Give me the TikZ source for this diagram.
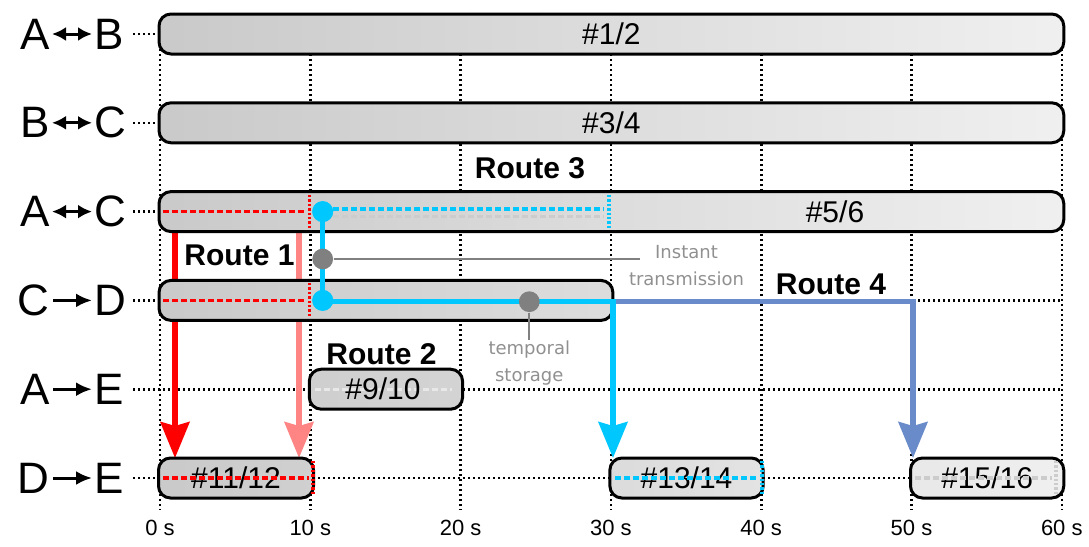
\documentclass[tikz,border=0pt]{standalone}
\usepackage{fontspec}
\setmainfont{Liberation Sans}
\newfontfamily\notefont{DejaVu Sans}
\usetikzlibrary{arrows.meta,positioning}
\definecolor{rtred}{HTML}{FF0000}
\definecolor{rtpink}{HTML}{FF8585}
\definecolor{rtcyan}{HTML}{00C8FF}
\definecolor{rtblue}{HTML}{6A8BC9}
\definecolor{dotgray}{HTML}{808080}
\definecolor{notegray}{HTML}{909090}

\begin{document}
\begin{tikzpicture}[x=0.5pt, y=-0.5pt,
  rowlab/.style={font=\fontsize{22}{26}\selectfont, inner sep=0pt},
  twoway/.style={line width=1.5pt, shorten <=1pt, shorten >=1pt, {Latex[length=7pt,width=7pt]}-{Latex[length=7pt,width=7pt]}},
  oneway/.style={line width=1.5pt, shorten <=1.5pt, shorten >=1pt, -{Latex[length=8pt,width=7pt]}},
  gridline/.style={line width=1.3pt, dash pattern=on 1pt off 1.5pt},
  bar/.style={draw, line width=1.5pt, rounded corners=6pt, minimum height=20pt, inner sep=0pt, font=\fontsize{15}{18}\selectfont},
  barlab/.style={font=\fontsize{15}{18}\selectfont, inner sep=0pt},
  tick/.style={font=\fontsize{11}{13}\selectfont, inner sep=0pt},
  route/.style={font=\bfseries\fontsize{15}{18}\selectfont, inner sep=0pt},
  note/.style={font=\notefont\fontsize{9}{13.5}\selectfont, text=notegray, align=center, inner sep=0pt},
  flow/.style={line width=2.6pt, -{Stealth[length=18pt,width=14.5pt,inset=2pt]}},
  markdash/.style={line width=1.7pt, dash pattern=on 3pt off 1.5pt},
  markdot/.style={line width=1.6pt, dash pattern=on 1.2pt off 1pt},
  hub/.style={circle, inner sep=0pt, minimum size=10.4pt}
]
\useasboundingbox (0,0) rectangle (1089,547);

% grid
\foreach \t in {0,...,6}
  \draw[gridline] (160+150.3*\t,34) -- (160+150.3*\t,510);
\foreach \y in {34,122.8,211.6,300.4,389.2,478}
  \draw[gridline] (133,\y) -- (1062,\y);
\foreach \t [evaluate=\t as \s using int(10*\t)] in {0,...,6}
  \node[tick] (tk\t) at (160+150.3*\t,528) {\s~s};

% row labels
\foreach \n/\y/\a/\b/\tip in {ab/34/A/B/twoway, bc/122.8/B/C/twoway, ac/211.6/A/C/twoway,
    cd/300.4/C/D/oneway, ae/389.2/A/E/oneway, de/478/D/E/oneway} {
  \node[rowlab, anchor=east] (la\n) at (50,\y) {\a};
  \node[rowlab, anchor=west] (lb\n) at (94,\y) {\b};
  \draw[\tip] (la\n) -- (lb\n);
}

% route 1 (behind the bars)
\coordinate (r1a) at (175,230);   \coordinate (r1b) at (175,458);
\coordinate (r1c) at (299,230);   \coordinate (r1d) at (299,458);
\draw[flow, rtred] (r1a) -- (r1b);
\draw[flow, rtpink] (r1c) -- (r1d);

% transmissions
\node[bar, left color=black!21, right color=black!6, minimum width=452.4pt] (ab) at (611.4,34) {\#1/2};
\node[bar, left color=black!21, right color=black!6, minimum width=452.4pt] (bc) at (611.4,122.8) {\#3/4};
\node[bar, left color=black!21, right color=black!6, minimum width=452.4pt] (ac) at (611.4,211.6) {};
\node[bar, left color=black!21, right color=black!13.5, minimum width=226.95pt] (cd) at (385.95,300.4) {};
\node[bar, left color=black!19, right color=black!17, minimum width=76.65pt] (ae) at (385.95,389.2) {};
\node[bar, left color=black!21, right color=black!18.5, minimum width=77.5pt] (de1) at (236,478) {\#11/12};
\node[bar, left color=black!14, right color=black!11, minimum width=76.65pt] (de2) at (686.55,478) {\#13/14};
\node[bar, left color=black!9, right color=black!6, minimum width=76.65pt] (de3) at (987.15,478) {\#15/16};

% route 1 marks
\draw[markdash, rtred] (163,211.6) -- (306,211.6);
\draw[markdot, rtred] (309.5,195) -- (309.5,228);
\draw[markdash, rtred] (163,300.4) -- (306,300.4);
\draw[markdot, rtred] (309.5,283) -- (309.5,318);
\draw[markdash, rtred] (163,478) -- (309,478);
\draw[markdot, rtred] (313,461) -- (313,496);

% route 3 / route 4 marks
\draw[markdash, black!20] (333,216.5) -- (604,216.5);
\draw[markdash, rtcyan] (333,209) -- (604,209);
\draw[markdot, rtcyan] (609,195) -- (609,228);
\draw[markdash, rtcyan] (615,478) -- (758,478);
\draw[markdot, rtcyan] (762,461) -- (762,496);
\draw[markdash, black!9] (315,389.2) -- (452,389.2);
\draw[markdash, black!20] (915,478) -- (1052,478);
\draw[markdot, black!20] (1056,461) -- (1056,496);
\node[barlab] (acl) at (835,211.6) {\#5/6};
\node[barlab] (ael) at (383,389.2) {\#9/10};

% route 4
\coordinate (r4a) at (613,301.5);
\coordinate (r4b) at (913,301.5);
\coordinate (r4c) at (913,458);
\draw[flow, rtblue] (r4a) -- (r4b) -- (r4c);

% route 3
\node[hub, fill=rtcyan] (h1) at (322.7,211.6) {};
\node[hub, fill=rtcyan] (h3) at (322.7,300.4) {};
\coordinate (r3a) at (613,301.5);
\coordinate (r3b) at (613,458);
\draw[line width=2.6pt, rtcyan] (h1.center) -- (h3.center);
\draw[flow, rtcyan] (h3.center |- r3a) -- (r3a) -- (r3b);
\node[hub, fill=rtcyan] at (h1) {};
\node[hub, fill=rtcyan] at (h3) {};

% annotations
\node[hub, fill=dotgray] (h2) at (322.7,259) {};
\node[note] (inst) at (686.5,265.5) {Instant\\transmission};
\coordinate (instl) at (640,259);
\draw[line width=1pt, dotgray] (h2) -- (instl);
\node[hub, fill=dotgray] (h4) at (529.3,301.7) {};
\node[note, anchor=north] (tmp) at (529.3,340) {temporal\\storage};
\draw[line width=1pt, dotgray] (h4) -- (tmp);

% route labels
\node[route] (rt1) at (239.5,255.5) {Route 1};
\node[route] (rt2) at (381.5,354) {Route 2};
\node[route] (rt3) at (530,168) {Route 3};
\node[route] (rt4) at (831,284.5) {Route 4};
\end{tikzpicture}
\end{document}
